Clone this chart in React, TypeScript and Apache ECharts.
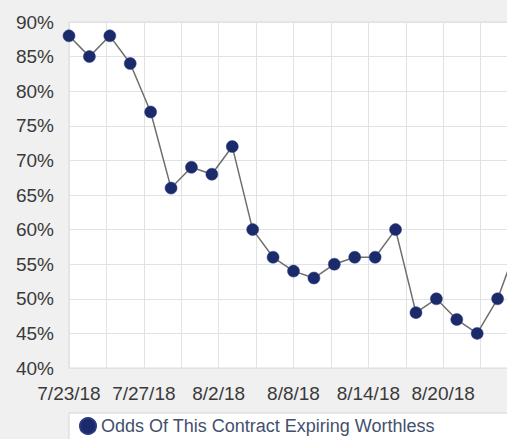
import React, { useEffect, useRef } from "react";
import * as echarts from "echarts";

const tradingDates = [
  "7/23/18", "7/24/18", "7/25/18", "7/26/18", "7/27/18", "7/30/18", "7/31/18",
  "8/1/18", "8/2/18", "8/3/18", "8/6/18", "8/7/18", "8/8/18", "8/9/18",
  "8/10/18", "8/13/18", "8/14/18", "8/15/18", "8/16/18", "8/17/18", "8/20/18",
  "8/21/18", "8/22/18",
];
const oddsValues = [
  88, 85, 88, 84, 77, 66, 69, 68, 72, 60, 56, 54, 53, 55, 56, 56, 60, 48, 50,
  47, 45, 50, 58,
];
const tickLabels = ["7/23/18", "7/27/18", "8/2/18", "8/8/18", "8/14/18", "8/20/18"];
const seriesName = "Odds Of This Contract Expiring Worthless";

export default function App() {
  const ref = useRef<HTMLDivElement>(null);
  useEffect(() => {
    if (!ref.current) return;
    const chart = echarts.init(ref.current, null, { renderer: "svg" });
    const gridSlots: string[] = [];
    for (let k = 0; k <= 12; k++) {
      gridSlots.push(k % 2 === 0 && tickLabels[k / 2] ? tickLabels[k / 2] : "");
    }
    const font = "Liberation Sans";
    chart.setOption({
      animation: false,
      backgroundColor: "#f0f0f0",
      grid: {
        left: 69,
        width: 449,
        top: 22,
        bottom: 71,
        outerBoundsMode: "none",
        containLabel: false,
        show: true,
        backgroundColor: "#ffffff",
        borderColor: "#dcdcdc",
        borderWidth: 1,
      },
      graphic: [
        {
          type: "rect",
          z: 0,
          shape: { x: 69, y: 413, width: 460, height: 40 },
          style: { fill: "#ffffff", stroke: "#d6d6d6", lineWidth: 1 },
        },
      ],
      xAxis: [
        {
          type: "value",
          min: 0,
          max: 22,
          show: false,
        },
        {
          type: "category",
          data: gridSlots,
          boundaryGap: false,
          position: "bottom",
          axisLine: { show: false },
          axisTick: { show: false },
          axisLabel: {
            interval: 0,
            margin: 16,
            fontSize: 19,
            fontFamily: font,
            color: "#3a3a3a",
          },
          splitLine: { show: true, interval: 0, lineStyle: { color: "#e2e2e2", width: 1 } },
        },
      ],
      yAxis: {
        type: "value",
        min: 40,
        max: 90,
        interval: 5,
        axisLine: { show: false },
        axisTick: { show: false },
        axisLabel: {
          formatter: "{value}%",
          margin: 15,
          fontSize: 19,
          fontFamily: font,
          color: "#3a3a3a",
        },
        splitLine: { show: true, lineStyle: { color: "#e2e2e2", width: 1 } },
      },
      legend: {
        show: true,
        left: 69,
        top: 411,
        orient: "horizontal",
        padding: [6, 10, 6, 10],
        icon: "circle",
        itemWidth: 16,
        itemHeight: 16,
        itemGap: 5,
        z: 5,
        textStyle: { fontSize: 18, fontFamily: font, color: "#44506e" },
        data: [seriesName],
      },
      series: [
        {
          name: seriesName,
          type: "line",
          xAxisIndex: 0,
          data: oddsValues.map((v, i) => [i, v]),
          symbol: "circle",
          symbolSize: 12,
          lineStyle: { color: "#6e6e6e", width: 1.5 },
          itemStyle: { color: "#1b2a6b", borderColor: "#2a3a80", borderWidth: 0.5 },
          clip: true,
        },
      ],
    });
    return () => chart.dispose();
  }, []);
  return (
    <div
      ref={ref}
      style={{ position: "fixed", left: 0, top: 0, width: 507, height: 439 }}
    />
  );
}
